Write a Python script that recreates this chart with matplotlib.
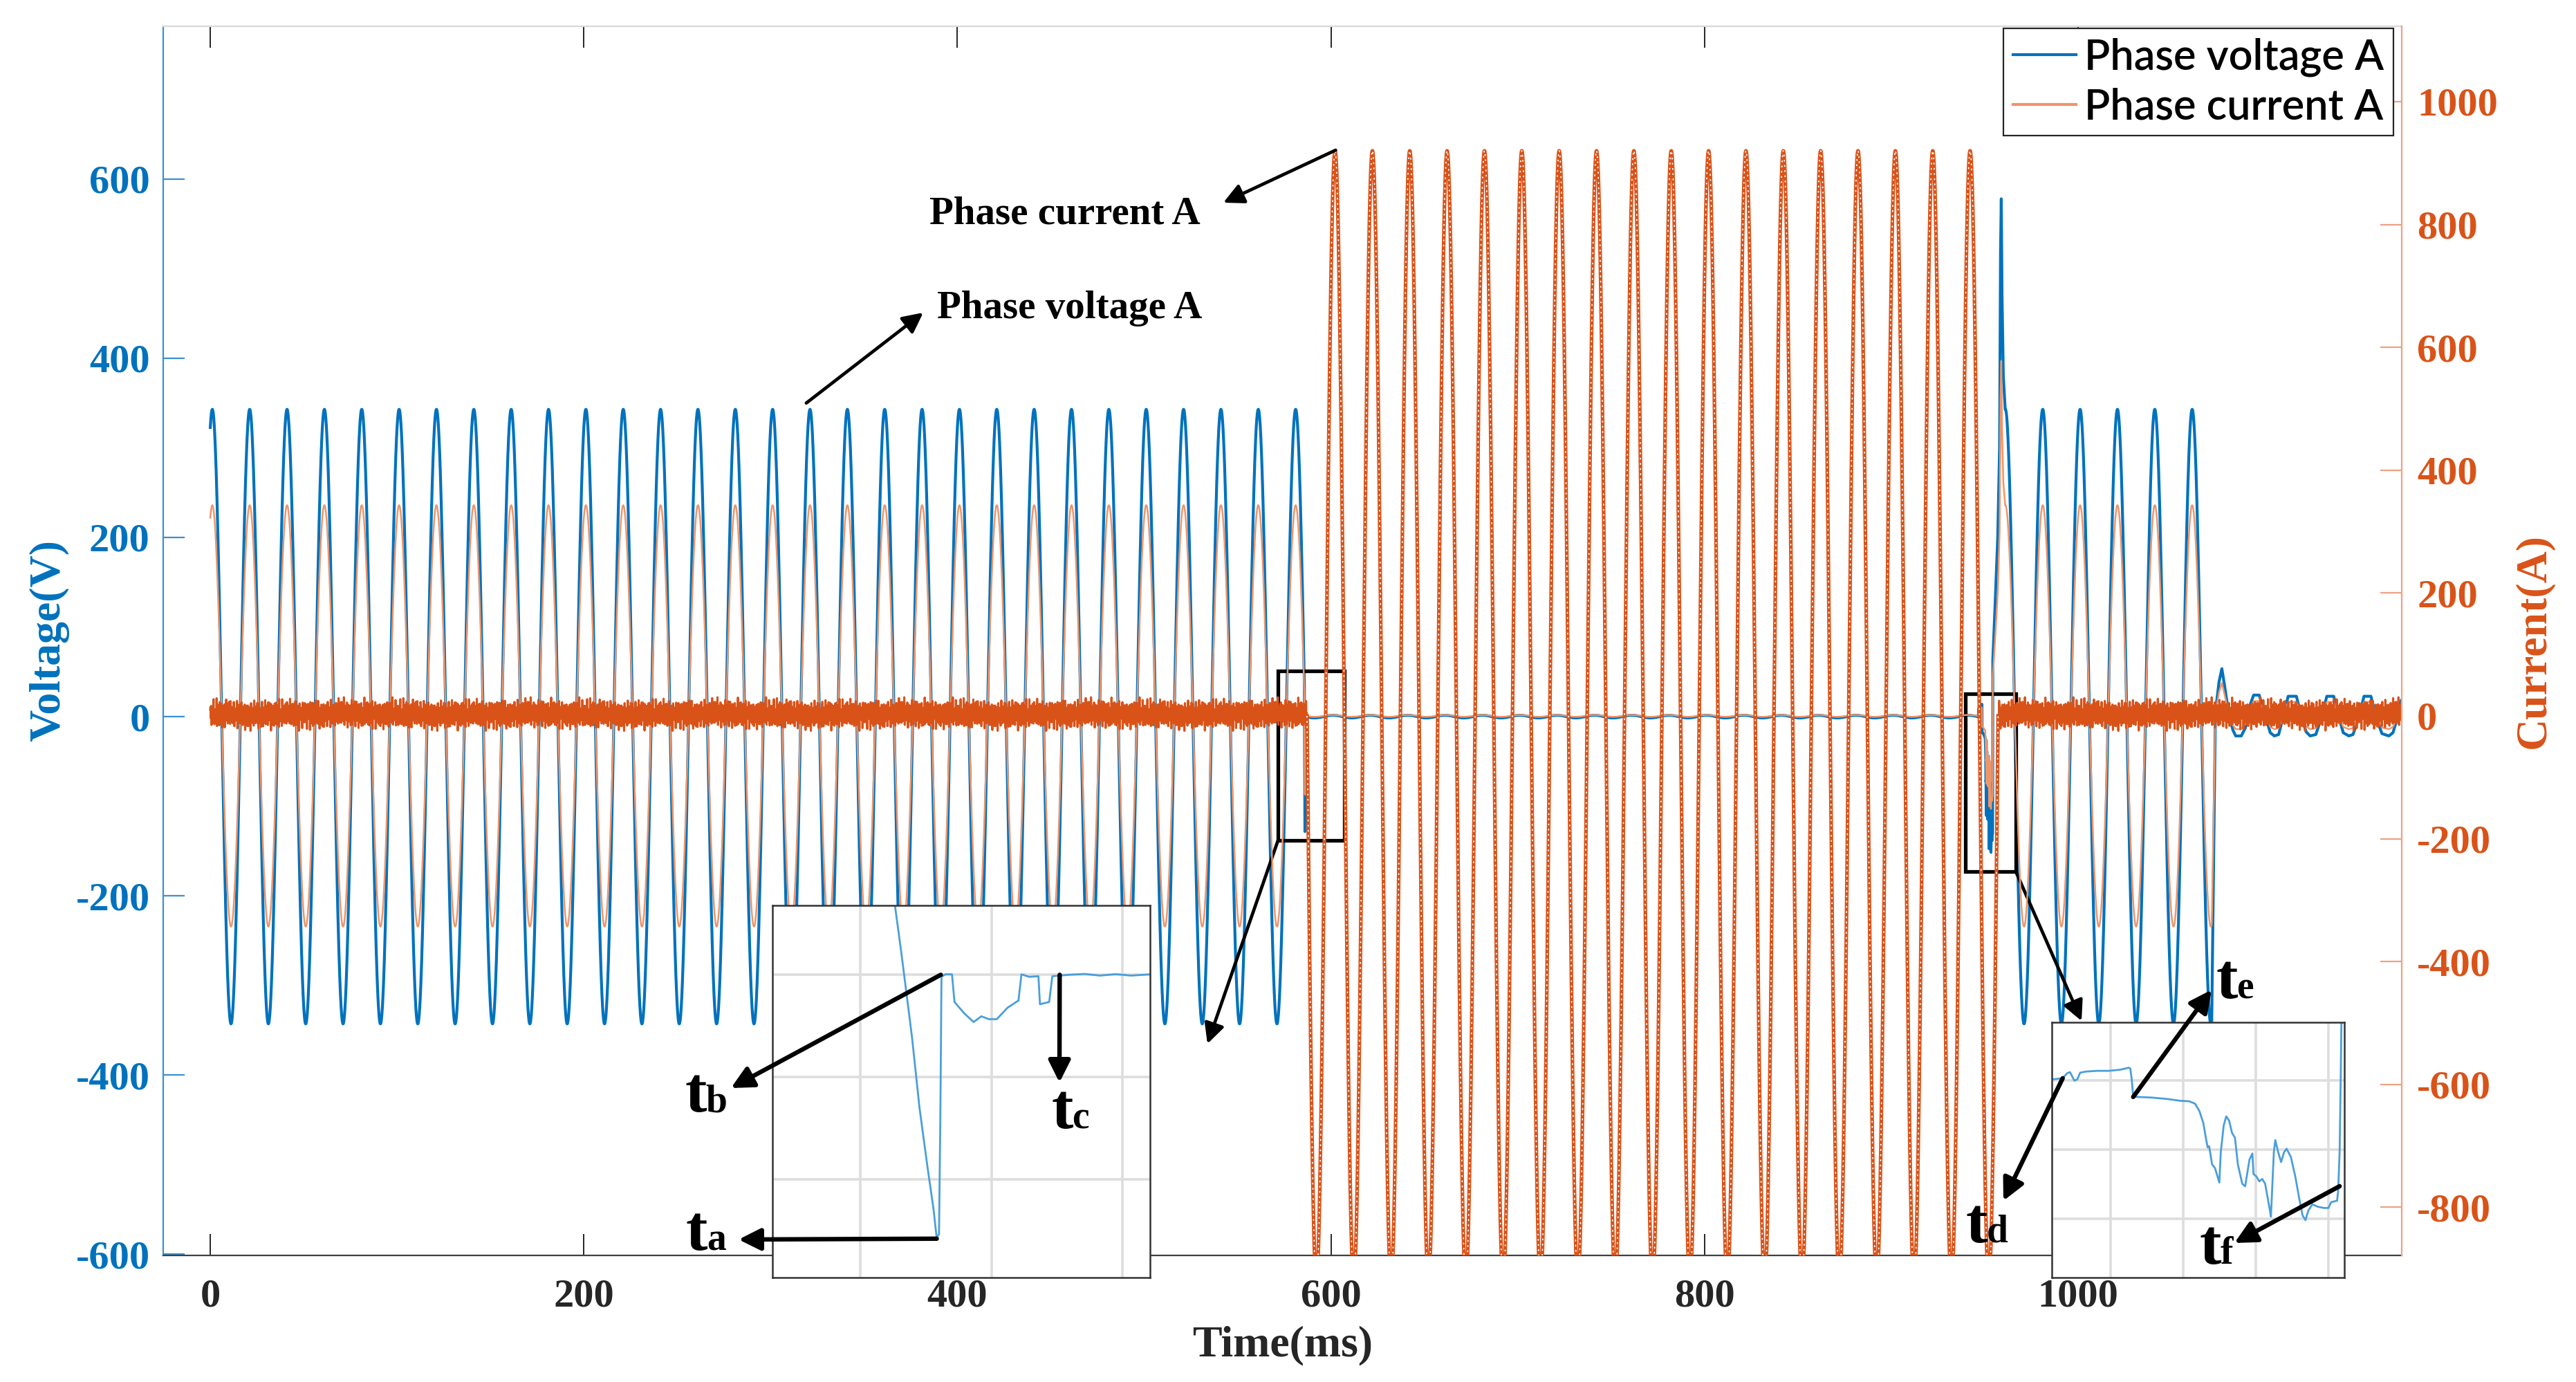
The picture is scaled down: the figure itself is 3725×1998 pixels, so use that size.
import numpy as np
import matplotlib.pyplot as plt
from matplotlib.lines import Line2D
from matplotlib.patches import Rectangle

W, H, DPI = 3725, 1998, 200
SERIF = 'Liberation Serif'

# ---- waveform parameters ----
DT_MS = 0.02
GRID_HZ = 50
V_PEAK = 343            # V, phase voltage amplitude
V_CREST_AT = 1.1        # ms, time of one voltage crest
I_FAULT_PEAK = 920      # A
I_CREST_AT = 2.2        # ms
T_END = 1173.3

# stretches where the voltage follows the grid sine
v_sine_from = [0.0, 961.0]
v_sine_to = [585.77, 1071.6]

# small residual voltage while the fault current flows
v_resid_from, v_resid_to, v_resid_amp = 587.8, 946.3, 1.5

# first collapse (zoomed in inset 1)
drop1_t = [585.812, 585.848, 585.895, 585.953, 586.012, 586.059, 586.083, 586.101,
           586.111, 586.120, 586.153, 586.200, 586.219, 586.294, 586.365, 586.423,
           586.482, 586.541, 586.623, 586.706, 586.729, 586.788, 586.858, 586.870,
           586.940, 586.964, 587.093, 587.211, 587.328, 587.446, 587.563, 587.709]
drop1_v = [11.9, -6.3, -30.2, -65.2, -93.3, -114.3, -128.3, -126.9,
           -72.2, -1.0, 0.3, 0.2, -13.3, -18.9, -23.1, -20.3,
           -21.7, -21.7, -16.1, -12.6, 0.2, -1.0, -0.7, -14.4,
           -13.3, -0.7, 0.0, 0.4, -0.4, 0.3, -0.4, 0.2]

# second collapse (zoomed in inset 2)
drop2_t = [946.39, 946.69, 946.81, 946.89, 947.01, 947.09, 947.17, 947.33, 947.64, 947.96,
           948.27, 948.51, 948.55, 948.59, 948.63, 948.75, 949.14, 949.54, 949.93, 950.17,
           950.33, 950.45, 950.56, 950.64, 950.68, 950.72, 950.80, 950.88, 951.00, 951.04,
           951.12, 951.19, 951.27, 951.35, 951.43, 951.51, 951.63, 951.71, 951.83, 951.91,
           951.94, 952.02, 952.10, 952.18, 952.26, 952.38, 952.42, 952.50, 952.54, 952.62,
           952.70, 952.78, 952.85, 952.97, 953.09, 953.21, 953.29, 953.37, 953.45, 953.56,
           953.72, 953.88, 954.00, 954.08, 954.24, 954.27, 954.31, 954.34, 954.36]
drop2_v = [1.1, 2.4, 7.7, 9.0, -0.2, 1.1, 8.4, 9.6, 10.4, 10.4,
           11.6, 13.8, 12.9, 1.1, -17.9, -17.9, -18.6, -20.0, -22.1, -22.6,
           -25.2, -33.0, -46.2, -64.7, -72.6, -71.3, -91.0, -95.0, -110.7, -77.9,
           -48.9, -38.9, -43.7, -56.9, -62.1, -91.0, -112.0, -114.8, -85.8, -79.2,
           -101.6, -104.1, -109.5, -106.8, -112.0, -138.3, -147.6, -77.9, -64.7, -77.9,
           -88.5, -77.9, -74.0, -83.1, -104.1, -130.5, -146.3, -151.5, -141.0, -134.4,
           -137.1, -138.3, -138.3, -131.9, -130.5, -120.0, -77.9, 1.1, 63.0]

# reclosing overvoltage spike
spike_t = [955.5, 957.0, 958.0, 958.5, 958.9, 959.3, 960.0]
spike_v = [120, 200, 300, 520, 578, 470, 380]

# after the breaker opens
tail_t = [1073.5, 1074.0, 1075.5, 1077.0, 1078.5, 1080.7, 1082.9, 1084.4, 1087.4, 1089.6,
          1091.8, 1094.0, 1097.0, 1100.0, 1102.9, 1105.1, 1107.4, 1109.6, 1112.5, 1116.9,
          1119.2, 1122.1, 1124.3, 1127.3, 1130.2, 1133.2, 1136.9, 1139.8, 1142.0, 1145.0,
          1147.2, 1150.2, 1153.1, 1156.8, 1159.8, 1162.7, 1166.4, 1168.6, 1171.6, 1173.1]
tail_v = [0, 13, 39, 53.5, 34, 3, -15, -21.6, -21.6, -12.5,
          11, 24, 24, 3, -18, -21.6, -20, -2, 22.7, 22.7,
          3, -17, -21.6, -20, -2, 22.7, 22.7, -2, -18, -21.6,
          -20, -2, 22.7, 22.7, -2, -19, -21.6, -18, 3, 18]

# fault current window and measurement ripple on the current channel
i_fault_from, i_fault_to = 587.2, 957.2
ripple_hz = [730, 1190, 1730, 2390, 3110, 4270]
ripple_amp = [6, 7, 6, 6, 5, 4]
ripple_phase = [0.3, 1.7, 2.9, 0.8, 4.1, 5.2]
ripple_offset = 3

xticks = [0, 200, 400, 600, 800, 1000]
vticks = [-600, -400, -200, 0, 200, 400, 600]
iticks = [-800, -600, -400, -200, 0, 200, 400, 600, 800, 1000]

C_V = '#0072BD'
C_I = '#D95319'
C_I_LIGHT = '#EE956A'
C_INSET = '#4A9FDB'


def sine(t, amp, crest):
    return amp * np.cos(2 * np.pi * GRID_HZ * (np.asarray(t) - crest) / 1000.0)


# ---- assemble the voltage record ----
parts_t, parts_v = [], []
t1 = np.arange(v_sine_from[0], v_sine_to[0], DT_MS)
parts_t += [t1, np.array(drop1_t)]
parts_v += [sine(t1, V_PEAK, V_CREST_AT), np.array(drop1_v)]
tr = np.arange(v_resid_from, v_resid_to, DT_MS)
parts_t += [tr, np.array(drop2_t), np.array(spike_t)]
parts_v += [sine(tr, v_resid_amp, V_CREST_AT), np.array(drop2_v), np.array(spike_v)]
t2 = np.arange(v_sine_from[1], v_sine_to[1], DT_MS)
parts_t += [t2, np.array(tail_t)]
parts_v += [sine(t2, V_PEAK, V_CREST_AT), np.array(tail_v)]
volt_t = np.concatenate(parts_t)
volt_v = np.concatenate(parts_v)

# ---- current record ----
cur_t = np.arange(0, T_END, DT_MS)
ripple = np.full_like(cur_t, ripple_offset, dtype=float)
for f, a, p in zip(ripple_hz, ripple_amp, ripple_phase):
    ripple += a * np.sin(2 * np.pi * f * cur_t / 1000.0 + p)
in_fault = (cur_t >= i_fault_from) & (cur_t <= i_fault_to)
cur_noise = np.where(in_fault, np.nan, ripple)
cur_fault = np.where(in_fault, sine(cur_t, I_FAULT_PEAK, I_CREST_AT), np.nan)

# ---- figure ----
fig = plt.figure(figsize=(W / DPI, H / DPI), dpi=DPI)
ax = fig.add_axes([236 / W, 1 - 1815 / H, 3237 / W, 1777 / H])
ax2 = ax.twinx()
ax.set_zorder(1)
ax2.set_zorder(2)

ax.plot(volt_t, volt_v, color=C_V, lw=1.5)
ax2.plot(volt_t, volt_v, color=C_I_LIGHT, lw=0.9)
ax2.plot(cur_t, cur_noise, color=C_I, lw=1.1)
ax2.plot(cur_t, cur_fault, color=C_I, lw=1.9)
ax2.plot(cur_t, cur_fault, color='white', lw=0.6, ls=(0, (1.5, 3)))

ax.set_xlim(-25.2, T_END)
ax.set_ylim(-601.5, 770.6)
ax2.set_ylim(-878.4, 1122.7)
ax.set_xticks(xticks)
ax.set_yticks(vticks)
ax2.set_yticks(iticks)

tick_font = dict(family=SERIF, weight='bold', size=21)
ax.set_xticklabels([str(v) for v in xticks], **tick_font, color='#262626')
ax.set_yticklabels([str(v) for v in vticks], **tick_font, color=C_V)
ax2.set_yticklabels([str(v) for v in iticks], **tick_font, color=C_I)

ax.tick_params(axis='x', direction='in', length=11, width=0.7, colors='#262626',
               top=True, pad=12)
ax.tick_params(axis='y', direction='in', length=11, width=0.8, color='#3D8FD0', pad=7)
ax2.tick_params(axis='y', direction='in', length=11, width=0.8, color='#EDA283', pad=8)

ax.spines['left'].set_color('#3D8FD0')
ax.spines['bottom'].set_color('#404040')
ax.spines['top'].set_color('#D9D9D9')
ax.spines['right'].set_visible(False)
for s in ['left', 'top', 'bottom']:
    ax2.spines[s].set_visible(False)
ax2.spines['right'].set_color('#EDA283')
for s in ax.spines.values():
    s.set_linewidth(0.8)
ax2.spines['right'].set_linewidth(0.8)

lab_font = dict(family=SERIF, weight='bold', size=23)
ax.set_xlabel('Time(ms)', **lab_font, color='#262626')
ax.set_ylabel('Voltage(V)', **lab_font, color=C_V)
ax2.set_ylabel('Current(A)', **lab_font, color=C_I)
ax.xaxis.set_label_coords(0.5, -0.057)
ax.yaxis.set_label_coords(-0.042, 0.5)
ax2.yaxis.set_label_coords(1.050, 0.5)

# legend
handles = [Line2D([], [], color=C_V, lw=1.5), Line2D([], [], color=C_I_LIGHT, lw=1.5)]
leg = ax2.legend(handles, ['Phase voltage A', 'Phase current A'], loc='upper right',
                 bbox_to_anchor=((3461 - 236) / 3237, (1815 - 41) / 1777),
                 prop=dict(family='Lato', size=22, weight='semibold'), borderaxespad=0,
                 borderpad=0.22, labelspacing=0.25, handlelength=1.5, handletextpad=0.2,
                 fancybox=False, framealpha=1, edgecolor='#262626')
leg.get_frame().set_linewidth(0.8)

# boxes around the two events
ax.add_patch(Rectangle((571.7, -138), 35.5, 189, fill=False, ec='black', lw=1.9, zorder=5))
ax.add_patch(Rectangle((939.6, -173), 27.1, 198.5, fill=False, ec='black', lw=1.9, zorder=5))


def fpx(x, y):
    return (x, H - y)


arrow_big = dict(arrowstyle='-|>', color='black', lw=2.3, mutation_scale=24,
                 shrinkA=0, shrinkB=0)
arrow_small = dict(arrowstyle='-|>', color='black', lw=1.7, mutation_scale=22,
                   shrinkA=0, shrinkB=0)

ax2.annotate('', xy=fpx(1769, 293), xycoords='figure pixels', xytext=(602.5, 921),
             textcoords='data', arrowprops=arrow_small, annotation_clip=False)
ax.annotate('', xy=fpx(1335, 452), xycoords='figure pixels', xytext=(319.1, 350),
            textcoords='data', arrowprops=arrow_small, annotation_clip=False)
ax.annotate('', xy=fpx(1746, 1509), xycoords='figure pixels', xytext=(571.7, -138),
            textcoords='data', arrowprops=arrow_small, annotation_clip=False)
ax.annotate('', xy=fpx(3010, 1476), xycoords='figure pixels', xytext=(966.7, -173),
            textcoords='data', arrowprops=arrow_small, annotation_clip=False)

note_font = dict(family=SERIF, weight='bold', size=20.5)
fig.text(1344 / W, 1 - 323 / H, 'Phase current A', va='baseline', ha='left', **note_font)
fig.text(1355 / W, 1 - 460 / H, 'Phase voltage A', va='baseline', ha='left', **note_font)

# ---- insets ----
in1 = fig.add_axes([1117 / W, 1 - 1847 / H, 546 / W, 538 / H])
in2 = fig.add_axes([2967 / W, 1 - 1847 / H, 423 / W, 369 / H])
for axi, xl, yl, xt, yt in [(in1, (584.833, 587.708), (-148.0, 33.9),
                             [585.5, 586.5, 587.5], [-100, -50, 0]),
                            (in2, (946.39, 954.44), (-213.75, 63.0),
                             [948, 950, 952, 954], [-150, -75, 0])]:
    axi.set_zorder(3)
    axi.plot(volt_t, volt_v, color=C_INSET, lw=1.0)
    axi.set_xlim(*xl)
    axi.set_ylim(*yl)
    axi.set_xticks(xt)
    axi.set_yticks(yt)
    axi.tick_params(length=0, labelbottom=False, labelleft=False)
    axi.grid(True, color='#DDDDDD', lw=1.3)
    axi.set_axisbelow(True)
    for s in axi.spines.values():
        s.set_color('#333333')
        s.set_linewidth(0.9)

# event markers t_a ... t_f: (inset, tail point in data, arrow head in figure px)
markers = [(in1, (586.084, -129.0), (1068, 1792)),
           (in1, (586.115, 0.0), (1057, 1573)),
           (in1, (587.02, 0.0), (1532, 1565)),
           (in2, (946.69, 2.4), (2897, 1736)),
           (in2, (948.63, -17.9), (3198, 1431)),
           (in2, (954.31, -114.7), (3231, 1797))]
for axi, tail, head in markers:
    axi.annotate('', xy=fpx(*head), xycoords='figure pixels', xytext=tail,
                 textcoords='data', arrowprops=arrow_big, annotation_clip=False)

t_labels = ['a', 'b', 'c', 'd', 'e', 'f']
t_pos = [(992, 1807), (990, 1607), (1520, 1631), (2843, 1796), (3204, 1443), (3181, 1827)]
for sub, (x, y) in zip(t_labels, t_pos):
    fig.text(x / W, 1 - y / H, 't', family=SERIF, weight='bold', size=34,
             va='baseline', ha='left', zorder=10)
    fig.text((x + 30) / W, 1 - y / H, sub, family=SERIF, weight='bold', size=20,
             va='baseline', ha='left', zorder=10)

fig.savefig('out.png', dpi=DPI, facecolor='white')
